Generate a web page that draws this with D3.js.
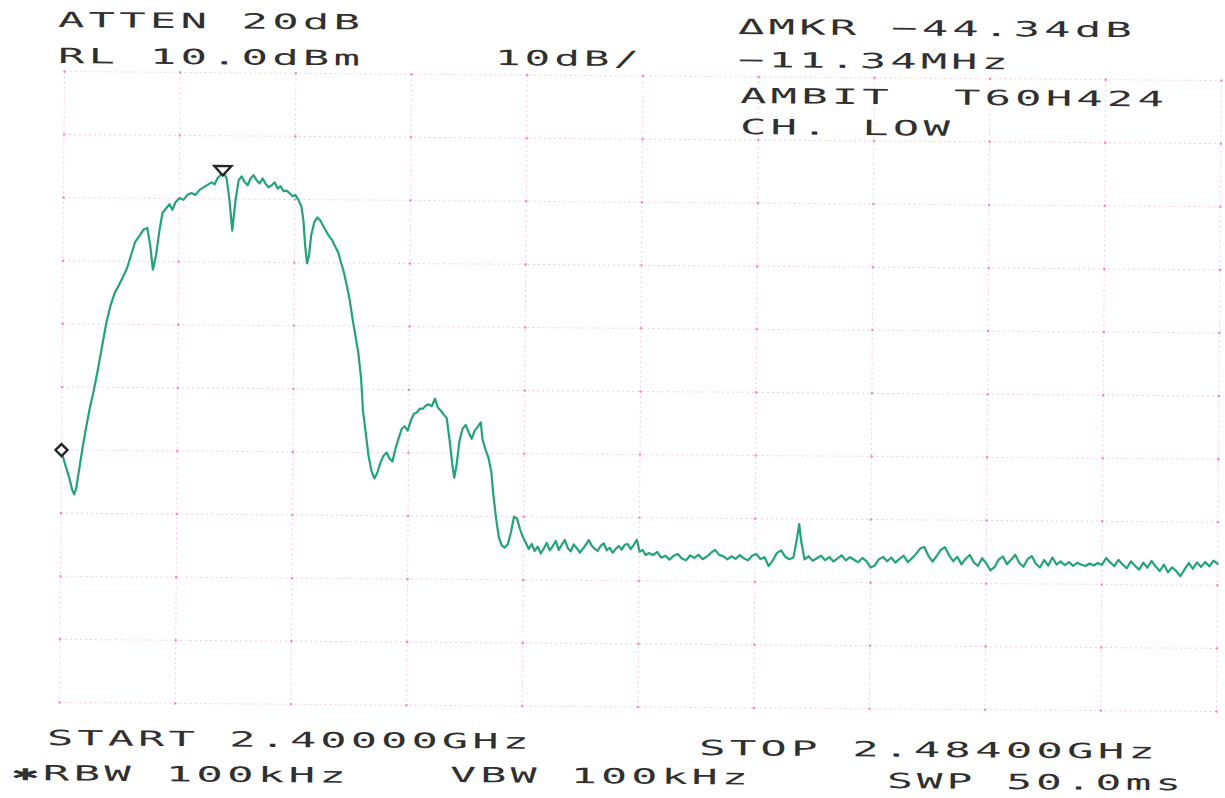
<!DOCTYPE html>
<html>
<head>
<meta charset="utf-8">
<script src="https://cdn.jsdelivr.net/npm/d3@7"></script>
<style>
  html, body { margin: 0; padding: 0; background: #ffffff; }
  svg { display: block; }
</style>
</head>
<body>
<svg id="chart" width="1225" height="798"></svg>
<script>
// ---------------- data ----------------
const START_MHZ = 2400.0;
const STOP_MHZ = 2484.0;
const REF_LEVEL_DBM = 10;
const DB_PER_DIV = 10;
const DIVISIONS = 10;

// [offset from start (MHz), level (dBm)] — carrier band
const carrierBand = [
  [0,-50.0],[0.07,-50.8],[0.29,-52.4],[0.58,-54.4],[0.8,-56.3],[0.94,-57.0],[1.09,-56.0],[1.31,-52.8],
  [1.52,-49.7],[1.74,-46.8],[2.03,-43.3],[2.32,-40.4],[2.61,-37.0],[2.90,-33.3],[3.19,-29.7],[3.48,-27.0],
  [3.78,-25.0],[4.07,-23.8],[4.36,-22.5],[4.65,-21.1],[4.94,-19.0],[5.23,-16.9],[5.52,-16.0],[5.81,-15.0],
  [6.10,-14.7],[6.32,-17.4],[6.53,-21.3],[6.75,-19.0],[6.97,-15.3],[7.19,-12.3],[7.48,-11.5],[7.70,-10.9],
  [7.91,-11.8],[8.13,-10.6],[8.42,-9.9],[8.71,-10.2],[9.00,-9.4],[9.29,-9.1],[9.58,-9.4],[9.87,-8.6],
  [10.16,-8.2],[10.45,-7.8],[10.74,-7.4],[10.96,-7.7],[11.18,-6.7],[11.40,-6.2],[11.62,-5.9],[11.83,-6.7],
  [12.05,-10.2],[12.27,-15.0],[12.49,-10.2],[12.71,-7.0],[12.92,-6.4],[13.14,-7.3],[13.36,-7.8],[13.58,-6.7],
  [13.79,-6.2],[14.01,-7.0],[14.23,-7.5],[14.45,-6.7],[14.67,-7.6],[14.88,-8.1],[15.10,-7.8],[15.32,-7.3],
  [15.54,-8.3],[15.75,-7.9],[15.97,-8.7],[16.19,-8.6],[16.41,-9.0],[16.63,-9.5],[16.84,-9.3],[17.06,-10.1],
  [17.28,-11.1],[17.43,-13.3],[17.57,-17.3],[17.72,-20.1],[17.86,-18.8],[18.00,-15.7],[18.22,-13.6],[18.44,-12.8],
  [18.66,-13.3],[18.88,-14.2],[19.09,-15.0],[19.31,-15.8],[19.53,-16.4],[19.75,-17.4],[19.97,-18.3],[20.18,-19.9],
  [20.40,-21.5],[20.62,-23.6],[20.84,-25.9],[21.05,-28.8],[21.27,-31.5],[21.49,-34.2],[21.71,-38.3],[21.86,-43.3],
  [22.07,-46.8],[22.29,-50.5],[22.51,-52.9],[22.73,-54.1],[22.94,-53.2],[23.16,-51.6],[23.38,-50.5],[23.60,-50.0],
  [23.81,-50.9],[24.03,-51.4],[24.25,-49.3],[24.47,-47.7],[24.69,-46.2],[24.90,-45.8],[25.12,-46.5],[25.34,-44.9],
  [25.56,-43.8],[25.77,-43.6],[25.99,-43.0],[26.21,-43.0],[26.43,-42.5],[26.64,-42.3],[26.86,-42.6],[27.08,-41.4],
  [27.30,-42.8],[27.52,-43.3],[27.73,-43.9],[27.95,-44.5],[28.17,-48.0],[28.39,-52.0],[28.53,-53.9],[28.68,-52.0],
  [28.89,-48.0],[29.11,-46.1],[29.33,-45.5],[29.55,-46.7],[29.77,-47.7],[29.98,-46.4],[30.20,-45.8],[30.42,-45.1],
  [30.56,-47.8],[30.78,-49.4],[31.00,-50.7],[31.22,-53.0],[31.36,-56.2],[31.58,-60.2],[31.80,-63.3]
];

// [offset from start (MHz), level (dBm)] — out-of-band noise floor
const noiseFloor = [
  [32.02,-64.6],[32.23,-64.9],[32.45,-64.4],[32.67,-62.5],[32.89,-60.0],[33.11,-60.3],[33.32,-61.9],[33.54,-63.2],
  [33.76,-64.1],[33.98,-65.1],[34.19,-64.3],[34.41,-65.4],[34.63,-64.7],[34.85,-65.8],[35.07,-65.0],[35.28,-64.1],
  [35.50,-65.3],[35.72,-64.6],[35.94,-63.8],[36.15,-65.2],[36.37,-64.4],[36.59,-63.6],[36.81,-64.9],[37.03,-65.4],
  [37.24,-64.3],[37.46,-64.9],[37.68,-65.6],[37.90,-65.0],[38.11,-64.4],[38.33,-63.6],[38.55,-64.5],[38.77,-65.0],
  [38.98,-65.3],[39.20,-64.5],[39.42,-64.1],[39.64,-65.2],[39.86,-64.8],[40.07,-65.6],[40.29,-65.0],[40.51,-64.5],
  [40.73,-65.1],[40.94,-64.3],[41.16,-64.2],[41.38,-65.0],[41.60,-64.3],[41.82,-63.5],[42.03,-65.4],[42.25,-65.1],
  [42.47,-65.9],[42.69,-65.6],[43.0,-65.9],[43.3,-65.4],[43.6,-66.3],[43.9,-66.0],[44.2,-66.6],[44.5,-66.0],
  [44.8,-65.7],[45.1,-66.4],[45.4,-66.7],[45.7,-65.9],[46.0,-66.3],[46.3,-65.8],[46.6,-66.5],[46.9,-66.1],
  [47.2,-65.5],[47.5,-65.0],[47.8,-65.8],[48.1,-66.0],[48.4,-66.5],[48.7,-66.0],[49.0,-66.4],[49.3,-65.8],
  [49.6,-66.3],[49.9,-66.6],[50.2,-65.9],[50.5,-65.6],[50.8,-66.4],[51.1,-66.1],[51.4,-67.5],[51.7,-66.6],
  [52.0,-65.4],[52.3,-65.0],[52.6,-66.0],[52.9,-66.4],[53.2,-66.1],[53.45,-63.0],[53.6,-60.8],[53.75,-63.5],
  [54.0,-66.4],[54.3,-65.9],[54.6,-66.6],[54.9,-66.2],[55.2,-65.8],[55.5,-66.5],[55.8,-66.0],[56.1,-66.7],
  [56.4,-66.2],[56.7,-65.7],[57.0,-66.5],[57.3,-66.0],[57.6,-66.4],[57.9,-66.8],[58.2,-66.1],[58.5,-66.6],
  [58.8,-67.6],[59.1,-67.3],[59.4,-66.3],[59.7,-65.9],[60.0,-66.6],[60.3,-66.0],[60.6,-66.8],[60.9,-66.2],
  [61.2,-65.7],[61.5,-66.7],[61.8,-66.1],[62.1,-65.4],[62.4,-64.5],[62.7,-64.3],[63.0,-65.7],[63.3,-66.6],
  [63.6,-65.7],[63.9,-64.7],[64.2,-64.3],[64.5,-65.6],[64.8,-66.5],[65.1,-65.8],[65.4,-67.0],[65.7,-66.1],
  [66.0,-65.5],[66.3,-66.7],[66.6,-67.2],[66.9,-66.0],[67.2,-66.8],[67.5,-67.9],[67.8,-67.4],[68.1,-66.2],
  [68.4,-65.7],[68.7,-66.9],[69.0,-66.2],[69.3,-65.4],[69.6,-66.7],[69.9,-67.3],[70.2,-66.1],[70.5,-65.6],
  [70.8,-66.8],[71.1,-67.4],[71.4,-66.2],[71.7,-67.1],[72.0,-65.8],[72.3,-66.9],[72.6,-66.4],[72.9,-67.0],
  [73.2,-66.5],[73.5,-67.1],[73.8,-66.6],[74.1,-66.9],[74.4,-67.1],[74.7,-66.7],[75.0,-67.0],[75.3,-66.6],
  [75.6,-66.9],[75.9,-65.8],[76.2,-66.5],[76.5,-67.1],[76.8,-66.1],[77.1,-66.8],[77.4,-67.4],[77.7,-66.3],
  [78.0,-67.0],[78.3,-67.6],[78.6,-66.5],[78.9,-67.3],[79.2,-66.2],[79.5,-67.1],[79.8,-67.8],[80.1,-66.8],
  [80.4,-68.0],[80.7,-67.2],[81.0,-67.8],[81.3,-68.6],[81.6,-67.5],[81.9,-66.5],[82.2,-67.4],[82.5,-66.4],
  [82.8,-67.1],[83.1,-66.3],[83.4,-67.0],[83.7,-66.1],[84.0,-66.6]
];

// markers: reference (peak) marker and delta marker
const markerOffsetsMHz = [11.55, 0.0];
const markerLevelsDbm = [-5.9, -50.0];
const markerShapes = ["triangle", "diamond"];

// annotation lines printed by the analyzer
const annotationLines = [
  "ATTEN 20dB",
  "RL 10.0dBm",
  "10dB/",
  "\u0394MKR \u221244.34dB",
  "\u221211.34MHz",
  "AMBIT  T60H424",
  "CH. LOW",
  "START 2.40000GHz",
  "\u2731RBW 100kHz",
  "VBW 100kHz",
  "STOP 2.48400GHz",
  "SWP 50.0ms"
];

// ---------------- layout ----------------
const W = 1225, H = 798;
const plot = { left: 62, right: 1219, top: 76, bottom: 707, tilt: 0.45, cx: 640, cy: 391 };
// [x, baseline y, printed width] for each annotation line (page coordinates)
const annotationLayout = [
  [58, 27, 306], [58, 63, 306], [495, 65, 148], [738, 34, 398], [738, 67, 274],
  [740, 103, 428], [740, 134, 214], [47, 745, 486], [12, 780, 338], [450, 782, 302],
  [699, 755, 460], [887, 788, 298]
];

const svg = d3.select("#chart");
svg.append("rect").attr("width", W).attr("height", H).attr("fill", "#ffffff");

const spanMHz = STOP_MHZ - START_MHZ;
const x = d3.scaleLinear().domain([0, spanMHz]).range([plot.left, plot.right]);
const y = d3.scaleLinear()
  .domain([REF_LEVEL_DBM - DB_PER_DIV * DIVISIONS, REF_LEVEL_DBM])
  .range([plot.bottom, plot.top]);

const g = svg.append("g")
  .attr("transform", `rotate(${plot.tilt}, ${plot.cx}, ${plot.cy})`);

// graticule
const xDivs = d3.range(DIVISIONS + 1).map(i => i * spanMHz / DIVISIONS);
const yDivs = d3.range(DIVISIONS + 1).map(i => REF_LEVEL_DBM - i * DB_PER_DIV);

const grid = g.append("g").attr("class", "graticule");
grid.selectAll("line.v").data(xDivs).join("line")
  .attr("class", "v")
  .attr("x1", d => x(d)).attr("x2", d => x(d))
  .attr("y1", plot.top).attr("y2", plot.bottom)
  .attr("stroke", "#f2a9b9").attr("stroke-width", 1)
  .attr("stroke-dasharray", "2 3").attr("opacity", 0.55);
grid.selectAll("line.h").data(yDivs).join("line")
  .attr("class", "h")
  .attr("x1", plot.left).attr("x2", plot.right)
  .attr("y1", d => y(d)).attr("y2", d => y(d))
  .attr("stroke", "#f2a9b9").attr("stroke-width", 1)
  .attr("stroke-dasharray", "2 3").attr("opacity", 0.55);

const cross = d3.cross(xDivs, yDivs);
grid.selectAll("circle").data(cross).join("circle")
  .attr("cx", d => x(d[0])).attr("cy", d => y(d[1]))
  .attr("r", 1.3).attr("fill", "#e9627c").attr("opacity", 0.65);

// trace
const spectrum = carrierBand.concat(noiseFloor);
const line = d3.line().x(d => x(d[0])).y(d => y(d[1]));
g.append("path")
  .datum(spectrum)
  .attr("d", line)
  .attr("fill", "none")
  .attr("stroke", "#23a37a")
  .attr("stroke-width", 2.2)
  .attr("stroke-linejoin", "round")
  .attr("stroke-linecap", "round");

// markers
const markers = markerOffsetsMHz.map((f, i) => ({ f, L: markerLevelsDbm[i], shape: markerShapes[i] }));
g.selectAll("path.marker").data(markers).join("path")
  .attr("class", "marker")
  .attr("transform", d => `translate(${x(d.f)},${y(d.L)})`)
  .attr("d", d => d.shape === "triangle"
    ? "M-8.5,-7 L8.5,-7 L0,2.5 Z"
    : "M0,-6 L6,0 L0,6 L-6,0 Z")
  .attr("fill", "#ffffff")
  .attr("stroke", "#262626")
  .attr("stroke-width", 2.4)
  .attr("stroke-linejoin", "miter");

// annotation text
svg.append("g").selectAll("text").data(annotationLines).join("text")
  .attr("transform", (d, i) => `translate(${annotationLayout[i][0]},${annotationLayout[i][1]}) rotate(${plot.tilt})`)
  .attr("x", 0).attr("y", 0)
  .attr("textLength", (d, i) => annotationLayout[i][2])
  .attr("lengthAdjust", "spacingAndGlyphs")
  .style("font-family", "'DejaVu Sans Mono', monospace")
  .style("font-size", "21px")
  .style("letter-spacing", "2px")
  .style("white-space", "pre")
  .attr("xml:space", "preserve")
  .attr("fill", "#303030")
  .text(d => d);
</script>
</body>
</html>
